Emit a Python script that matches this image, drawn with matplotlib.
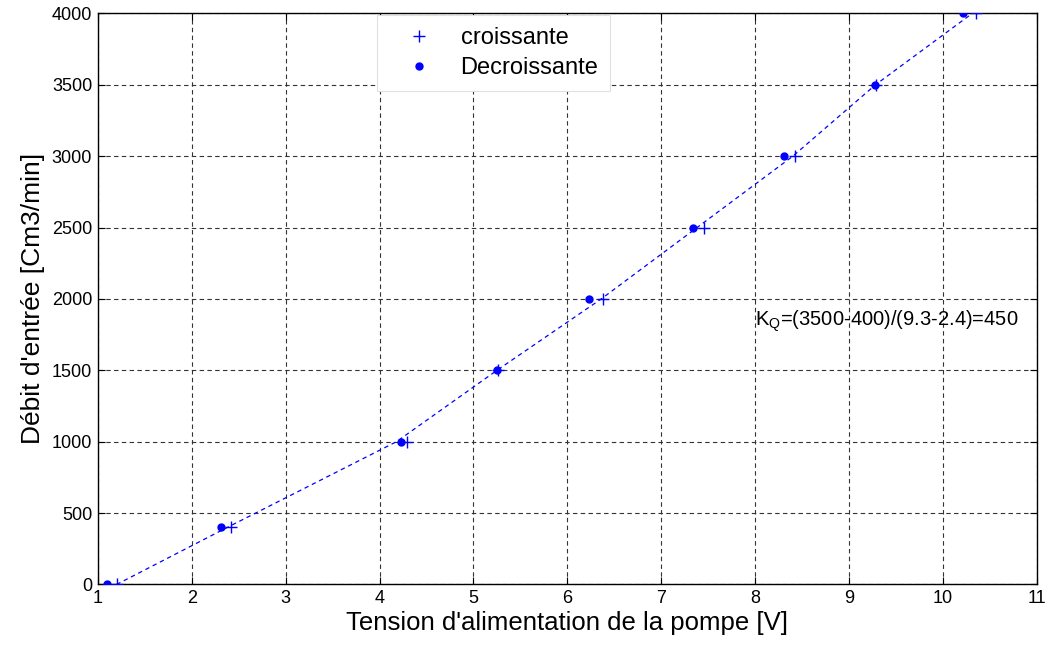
import matplotlib
matplotlib.use("Agg")
import matplotlib.pyplot as plt

plt.rcParams['font.family'] = ['Liberation Sans', 'DejaVu Sans']
plt.rcParams['mathtext.fontset'] = 'custom'
plt.rcParams['mathtext.rm'] = 'Liberation Sans'
plt.rcParams['mathtext.it'] = 'Liberation Sans'

# Data (debit in Cm3/min, tension in V)
debit = [0, 400, 1000, 1500, 2000, 2500, 3000, 3500, 4000]
tension_croissante = [1.20, 2.42, 4.29, 5.26, 6.38, 7.45, 8.42, 9.28, 10.35]
tension_decroissante = [1.10, 2.31, 4.23, 5.25, 6.23, 7.34, 8.31, 9.27, 10.21]
tension_courbe = [1.20, 2.38, 4.18, 5.25, 6.36, 7.38, 8.40, 9.28, 10.31]

xticks = list(range(1, 12))
yticks = list(range(0, 4001, 500))

fig = plt.figure(figsize=(10.5, 6.5), dpi=100)
ax = fig.add_axes([0.0931, 0.1008, 0.8946, 0.8786])

ax.plot(tension_courbe, debit, color='blue', linestyle=(0, (3.5, 3)), linewidth=0.9, zorder=2)
ax.plot(tension_croissante, debit, linestyle='none', marker='+', color='blue',
        markersize=9, markeredgewidth=1.0, label='croissante', zorder=3)
ax.plot(tension_decroissante, debit, linestyle='none', marker='o', color='blue',
        markersize=5, label='Decroissante', zorder=3)

ax.set_xlim(1, 11)
ax.set_ylim(0, 4000)
ax.set_xticks(xticks)
ax.set_yticks(yticks)
ax.tick_params(direction='in', top=True, right=True, length=5, width=0.8,
               labelsize=13, colors='black', pad=4)
ax.grid(True, color='0.2', linestyle=(0, (4, 3)), linewidth=0.8)
ax.set_axisbelow(True)
for s in ax.spines.values():
    s.set_linewidth(1.0)
    s.set_color('black')

ax.set_xlabel("Tension d'alimentation de la pompe [V]", fontsize=18.5, labelpad=3)
ax.set_ylabel("Débit d'entrée [Cm3/min]", fontsize=19, labelpad=5)

ax.text(8.0, 1810, r"K$_{\mathrm{Q}}$=(3500-400)/(9.3-2.4)=450", fontsize=14.5,
        va='baseline', ha='left', zorder=4)

leg = ax.legend(loc='upper left', bbox_to_anchor=(0.297, 0.997), fontsize=17,
                frameon=True, fancybox=False, borderaxespad=0, handlelength=2.6,
                handletextpad=0.45, borderpad=0.5, labelspacing=0.35)
leg.get_frame().set_edgecolor('0.88')
leg.get_frame().set_linewidth(0.8)
leg.get_frame().set_facecolor('white')
leg.get_frame().set_alpha(1)

fig.savefig('out.png', dpi=100)
